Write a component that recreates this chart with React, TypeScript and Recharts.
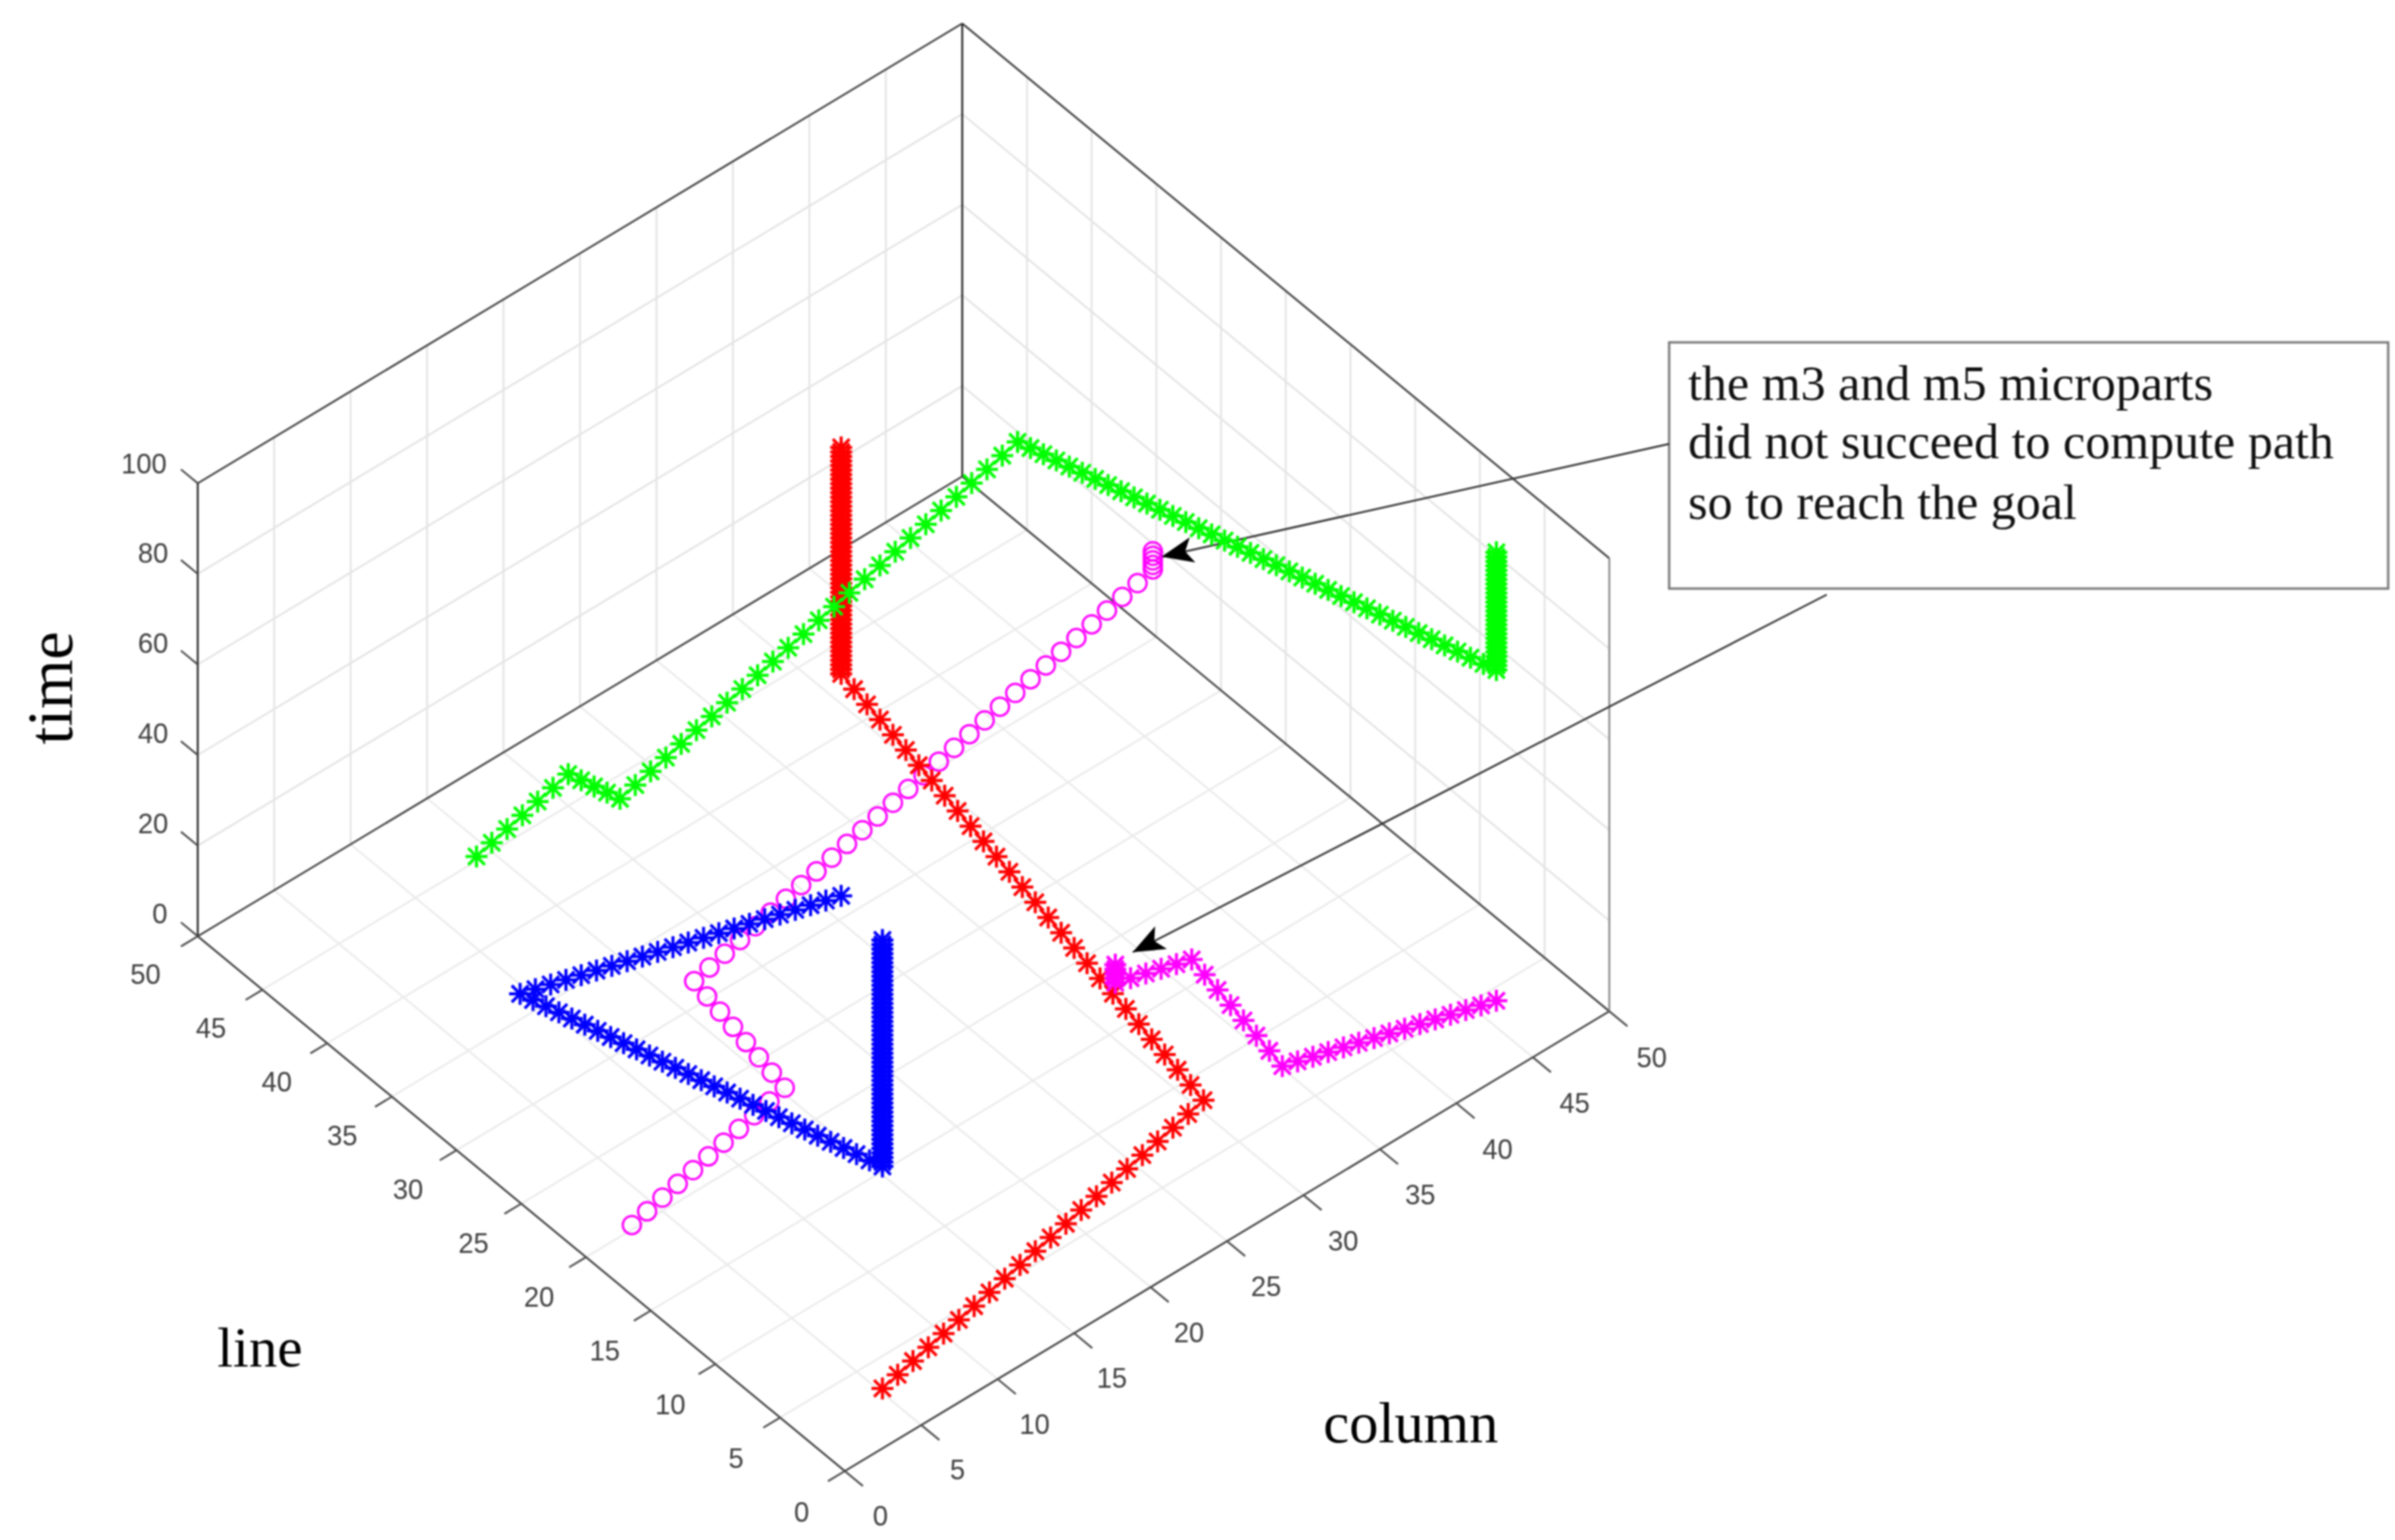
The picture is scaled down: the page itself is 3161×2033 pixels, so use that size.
import React from "react";
import { ScatterChart, Scatter, XAxis, YAxis, ReferenceLine, ReferenceArea } from "recharts";

const WIDTH = 3161;
const HEIGHT = 2033;

const lineTicks = [0, 5, 10, 15, 20, 25, 30, 35, 40, 45, 50];
const columnTicks = [0, 5, 10, 15, 20, 25, 30, 35, 40, 45, 50];
const timeTicks = [0, 20, 40, 60, 80, 100];

const timeSteps = [
  1, 2, 3, 4, 5, 6, 7, 8, 9, 10, 11, 12, 13, 14, 15, 16, 17, 18, 19, 20,
  21, 22, 23, 24, 25, 26, 27, 28, 29, 30, 31, 32, 33, 34, 35, 36, 37, 38, 39, 40,
  41, 42, 43, 44, 45, 46, 47, 48, 49, 50, 51, 52, 53, 54, 55, 56, 57, 58, 59, 60,
  61, 62, 63, 64, 65, 66, 67, 68, 69, 70, 71, 72, 73, 74, 75, 76, 77, 78, 79, 80,
  81, 82, 83, 84, 85, 86, 87, 88, 89, 90, 91, 92, 93, 94, 95, 96, 97, 98, 99, 100,
];

// red microPart
const redLine = [
  3, 3, 3, 3, 3, 3, 3, 3, 3, 3, 3, 3, 3, 3, 3, 3, 3, 3, 3, 3, 3, 3,
  4, 5, 6, 7, 8, 9, 10, 11, 12, 13, 14, 15, 16, 17, 18, 19, 20, 21, 22, 23, 24, 25, 26, 27, 28, 29, 30, 31,
  31, 31, 31, 31, 31, 31, 31, 31, 31, 31, 31, 31, 31, 31, 31, 31, 31, 31, 31, 31, 31, 31, 31, 31, 31,
  31, 31, 31, 31, 31, 31, 31, 31, 31, 31, 31, 31, 31, 31, 31, 31, 31, 31, 31, 31, 31, 31, 31, 31, 31,
];
const redColumn = [
  5, 6, 7, 8, 9, 10, 11, 12, 13, 14, 15, 16, 17, 18, 19, 20, 21, 22, 23, 24, 25, 26,
  26, 26, 26, 26, 26, 26, 26, 26, 26, 26, 26, 26, 26, 26, 26, 26, 26, 26, 26, 26, 26, 26, 26, 26, 26, 26, 26, 26,
  26, 26, 26, 26, 26, 26, 26, 26, 26, 26, 26, 26, 26, 26, 26, 26, 26, 26, 26, 26, 26, 26, 26, 26, 26,
  26, 26, 26, 26, 26, 26, 26, 26, 26, 26, 26, 26, 26, 26, 26, 26, 26, 26, 26, 26, 26, 26, 26, 26, 26,
];

// blue microPart
const blueLine = [
  31, 31, 31, 31, 31, 31, 31, 31, 31, 31, 31, 31, 31, 31, 31, 31, 31, 31, 31, 31, 31, 31,
  30, 29, 28, 27, 26, 25, 24, 23, 22, 21, 20, 19, 18, 17, 16, 15, 14, 13, 12, 11, 10, 9, 8, 7, 6, 5, 4, 3,
  3, 3, 3, 3, 3, 3, 3, 3, 3, 3, 3, 3, 3, 3, 3, 3, 3, 3, 3, 3, 3, 3, 3, 3, 3,
  3, 3, 3, 3, 3, 3, 3, 3, 3, 3, 3, 3, 3, 3, 3, 3, 3, 3, 3, 3, 3, 3, 3, 3, 3,
];
const blueColumn = [
  26, 25, 24, 23, 22, 21, 20, 19, 18, 17, 16, 15, 14, 13, 12, 11, 10, 9, 8, 7, 6, 5,
  5, 5, 5, 5, 5, 5, 5, 5, 5, 5, 5, 5, 5, 5, 5, 5, 5, 5, 5, 5, 5, 5, 5, 5, 5, 5, 5, 5,
  5, 5, 5, 5, 5, 5, 5, 5, 5, 5, 5, 5, 5, 5, 5, 5, 5, 5, 5, 5, 5, 5, 5, 5, 5,
  5, 5, 5, 5, 5, 5, 5, 5, 5, 5, 5, 5, 5, 5, 5, 5, 5, 5, 5, 5, 5, 5, 5, 5, 5,
];

// green microPart
const greenLine = [
  45, 45, 45, 45, 45, 45, 45, 44, 43, 42, 41,
  41, 41, 41, 41, 41, 41, 41, 41, 41, 41, 41, 41, 41, 41, 41, 41, 41, 41, 41, 41, 41, 41, 41, 41, 41, 41,
  40, 39, 38, 37, 36, 35, 34, 33, 32, 31, 30, 29, 28, 27, 26, 25, 24, 23, 22, 21, 20, 19, 18, 17, 16, 15, 14, 13, 12, 11, 10, 9, 8, 7, 6, 5, 4,
  4, 4, 4, 4, 4, 4, 4, 4, 4, 4, 4, 4, 4, 4, 4, 4, 4, 4, 4, 4, 4, 4, 4, 4, 4, 4,
];
const greenColumn = [
  14, 15, 16, 17, 18, 19, 20, 20, 20, 20, 20,
  21, 22, 23, 24, 25, 26, 27, 28, 29, 30, 31, 32, 33, 34, 35, 36, 37, 38, 39, 40, 41, 42, 43, 44, 45, 46,
  46, 46, 46, 46, 46, 46, 46, 46, 46, 46, 46, 46, 46, 46, 46, 46, 46, 46, 46, 46, 46, 46, 46, 46, 46, 46, 46, 46, 46, 46, 46, 46, 46, 46, 46, 46, 46,
  46, 46, 46, 46, 46, 46, 46, 46, 46, 46, 46, 46, 46, 46, 46, 46, 46, 46, 46, 46, 46, 46, 46, 46, 46, 46,
];

// magenta stars, stuck after about 30 steps
const magentaLine = [
  4, 4, 4, 4, 4, 4, 4, 4, 4, 4, 4, 4, 4, 4, 4,
  5, 6, 7, 8, 9, 10, 11,
  11, 11, 11, 11, 11,
  11, 11, 11, 11,
];
const magentaColumn = [
  46, 45, 44, 43, 42, 41, 40, 39, 38, 37, 36, 35, 34, 33, 32,
  32, 32, 32, 32, 32, 32, 32,
  31, 30, 29, 28, 27,
  27, 27, 27, 27,
];

// magenta circles
const circleLine = [
  20, 20, 20, 20, 20, 20, 20, 20, 20, 20, 20,
  21, 22, 23, 24, 25, 26, 27,
  27, 27, 27, 27, 27, 27, 27, 27, 27, 27, 27, 27, 27, 27, 27, 27, 27,
  27, 27, 27, 27, 27, 27, 27, 27, 27, 27, 27, 27, 27, 27, 27, 27, 27,
];
const circleColumn = [
  3, 4, 5, 6, 7, 8, 9, 10, 11, 12, 13,
  13, 13, 13, 13, 13, 13, 13,
  14, 15, 16, 17, 18, 19, 20, 21, 22, 23, 24, 25, 26, 27, 28, 29, 30,
  31, 32, 33, 34, 35, 36, 37, 38, 39, 40, 41, 42, 43, 43, 43, 43, 43,
];

const noteLines = ["the m3 and m5 microparts", "did not succeed to compute path", "so to reach the goal"];

// fixed view of the 3d box, one step of each axis on the page
const project = (line: number, column: number, time: number) => ({
  x: 1115 - 17.08 * line + 20.18 * column,
  y: 1942 - 14.12 * line - 12.14 * column - 5.98 * time,
});

const pathData = (lines: number[], columns: number[]) =>
  lines.map((l, i) => project(l, columns[i], timeSteps[i]));

const seg = (a: { x: number; y: number }, b: { x: number; y: number }) => [a, b] as any;

const floorGrid = [
  ...lineTicks.slice(1, -1).map((l) => seg(project(l, 0, 0), project(l, 50, 0))),
  ...columnTicks.slice(1, -1).map((c) => seg(project(0, c, 0), project(50, c, 0))),
];
const wallGrid = [
  ...columnTicks.slice(1, -1).map((c) => seg(project(50, c, 0), project(50, c, 100))),
  ...lineTicks.slice(1, -1).map((l) => seg(project(l, 50, 0), project(l, 50, 100))),
  ...timeTicks.slice(1, -1).map((t) => seg(project(50, 0, t), project(50, 50, t))),
  ...timeTicks.slice(1, -1).map((t) => seg(project(0, 50, t), project(50, 50, t))),
];
const frame = [
  seg(project(0, 0, 0), project(50, 0, 0)),
  seg(project(0, 0, 0), project(0, 50, 0)),
  seg(project(50, 0, 0), project(50, 50, 0)),
  seg(project(0, 50, 0), project(50, 50, 0)),
  seg(project(50, 0, 100), project(50, 50, 100)),
  seg(project(0, 50, 100), project(50, 50, 100)),
];
const uprights = [
  seg(project(50, 0, 0), project(50, 0, 100)),
  seg(project(50, 50, 0), project(50, 50, 100)),
];
const ticks = [
  ...lineTicks.map((l) => seg(project(l, 0, 0), project(l, -1.1, 0))),
  ...columnTicks.map((c) => seg(project(0, c, 0), project(-1.4, c, 0))),
  ...timeTicks.map((t) => seg(project(50, 0, t), project(51.3, 0, t))),
];

const arrowFrom1 = { x: 2203, y: 586 };
const arrowTip1 = { x: 1533, y: 735 };
const arrowFrom2 = { x: 2411, y: 785 };
const arrowTip2 = { x: 1495, y: 1257 };

const angleOf = (a: { x: number; y: number }, b: { x: number; y: number }) =>
  (Math.atan2(b.y - a.y, b.x - a.x) * 180) / Math.PI;

const arrowHeads = [
  { ...arrowTip1, angle: angleOf(arrowFrom1, arrowTip1) },
  { ...arrowTip2, angle: angleOf(arrowFrom2, arrowTip2) },
];

const tickLabels = [
  ...lineTicks.map((l) => ({ x: 1058 - 17.32 * l, y: 1996 - 14.2 * l, label: String(l) })),
  ...columnTicks.map((c) => ({ x: 1162 + 20.36 * c, y: 2001 - 12.1 * c, label: String(c) })),
  ...timeTicks.map((t) => ({ x: t === 0 ? 211 : t === 100 ? 190 : 202, y: 1206 - 5.94 * t, label: String(t) })),
];

const titles = [
  { x: 343, y: 1778, label: "line", size: 75, rotate: 0 },
  { x: 1862, y: 1878, label: "column", size: 77, rotate: 0 },
  { x: 66, y: 908, label: "time", size: 84, rotate: -90 },
];

const noteData = noteLines.map((label, i) => ({ x: 2228, y: [528, 605, 685][i], label }));

const star = (color: string) => (props: any) => {
  const { cx, cy } = props;
  return (
    <g stroke={color} strokeWidth={4} fill="none">
      <line x1={cx - 14.5} y1={cy} x2={cx + 14.5} y2={cy} />
      <line x1={cx} y1={cy - 14.5} x2={cx} y2={cy + 14.5} />
      <line x1={cx - 11} y1={cy - 11} x2={cx + 11} y2={cy + 11} />
      <line x1={cx - 11} y1={cy + 11} x2={cx + 11} y2={cy - 11} />
    </g>
  );
};

const ring = (props: any) => (
  <circle cx={props.cx} cy={props.cy} r={12} fill="none" stroke="#ff00ff" strokeWidth={3} />
);

const tickText = (props: any) => (
  <text x={props.cx} y={props.cy} textAnchor="middle" dominantBaseline="central" fontFamily="Liberation Sans" fontSize={36} fill="#404040">
    {props.payload.label}
  </text>
);

const titleText = (props: any) => {
  const p = props.payload;
  return (
    <text
      x={props.cx}
      y={props.cy}
      textAnchor="middle"
      dominantBaseline="central"
      fontFamily="Liberation Serif"
      fontSize={p.size}
      fill="#000"
      transform={p.rotate ? `rotate(${p.rotate} ${props.cx} ${props.cy})` : undefined}
    >
      {p.label}
    </text>
  );
};

const noteText = (props: any) => (
  <text x={props.cx} y={props.cy} fontFamily="Liberation Serif" fontSize={66} fill="#111">
    {props.payload.label}
  </text>
);

const arrowHead = (props: any) => (
  <polygon
    points="0,0 -42,-17 -32,0 -42,17"
    fill="#000"
    transform={`translate(${props.cx} ${props.cy}) rotate(${props.payload.angle})`}
  />
);

export default function App() {
  return (
    <div style={{ position: "absolute", left: 0, top: 0, width: WIDTH, height: HEIGHT, background: "#fff", filter: "blur(1px)" }}>
      <ScatterChart width={WIDTH} height={HEIGHT} margin={{ top: 0, right: 0, bottom: 0, left: 0 }}>
        <XAxis type="number" dataKey="x" domain={[0, WIDTH]} hide />
        <YAxis type="number" dataKey="y" domain={[0, HEIGHT]} reversed hide />

        {floorGrid.map((s, i) => (
          <ReferenceLine key={"f" + i} segment={s} stroke="#ebebeb" strokeWidth={2.5} />
        ))}
        {wallGrid.map((s, i) => (
          <ReferenceLine key={"w" + i} segment={s} stroke="#e4e4e4" strokeWidth={2.5} />
        ))}
        {frame.map((s, i) => (
          <ReferenceLine key={"e" + i} segment={s} stroke="#404040" strokeWidth={2.5} />
        ))}
        {uprights.map((s, i) => (
          <ReferenceLine key={"u" + i} segment={s} stroke="#262626" strokeWidth={2.5} />
        ))}
        <ReferenceLine segment={seg(project(0, 50, 0), project(0, 50, 100))} stroke="#8a8a8a" strokeWidth={2.5} />
        {ticks.map((s, i) => (
          <ReferenceLine key={"t" + i} segment={s} stroke="#4d4d4d" strokeWidth={2.5} />
        ))}

        <Scatter data={tickLabels} shape={tickText} isAnimationActive={false} />
        <Scatter data={titles} shape={titleText} isAnimationActive={false} />

        <Scatter data={pathData(circleLine, circleColumn)} shape={ring} isAnimationActive={false} />
        <Scatter data={pathData(redLine, redColumn)} shape={star("#ff0000")} isAnimationActive={false} />
        <Scatter data={pathData(blueLine, blueColumn)} shape={star("#0000ff")} isAnimationActive={false} />
        <Scatter data={pathData(greenLine, greenColumn)} shape={star("#00ff00")} isAnimationActive={false} />
        <Scatter data={pathData(magentaLine, magentaColumn)} shape={star("#ff00ff")} isAnimationActive={false} />

        <ReferenceLine segment={seg(arrowFrom1, arrowTip1)} stroke="#333" strokeWidth={2.5} />
        <ReferenceLine segment={seg(arrowFrom2, arrowTip2)} stroke="#333" strokeWidth={2.5} />
        <Scatter data={arrowHeads} shape={arrowHead} isAnimationActive={false} />

        <ReferenceArea x1={2203} x2={3152} y1={452} y2={777} fill="#fff" fillOpacity={1} stroke="#777" strokeWidth={3} />
        <Scatter data={noteData} shape={noteText} isAnimationActive={false} />
      </ScatterChart>
    </div>
  );
}
